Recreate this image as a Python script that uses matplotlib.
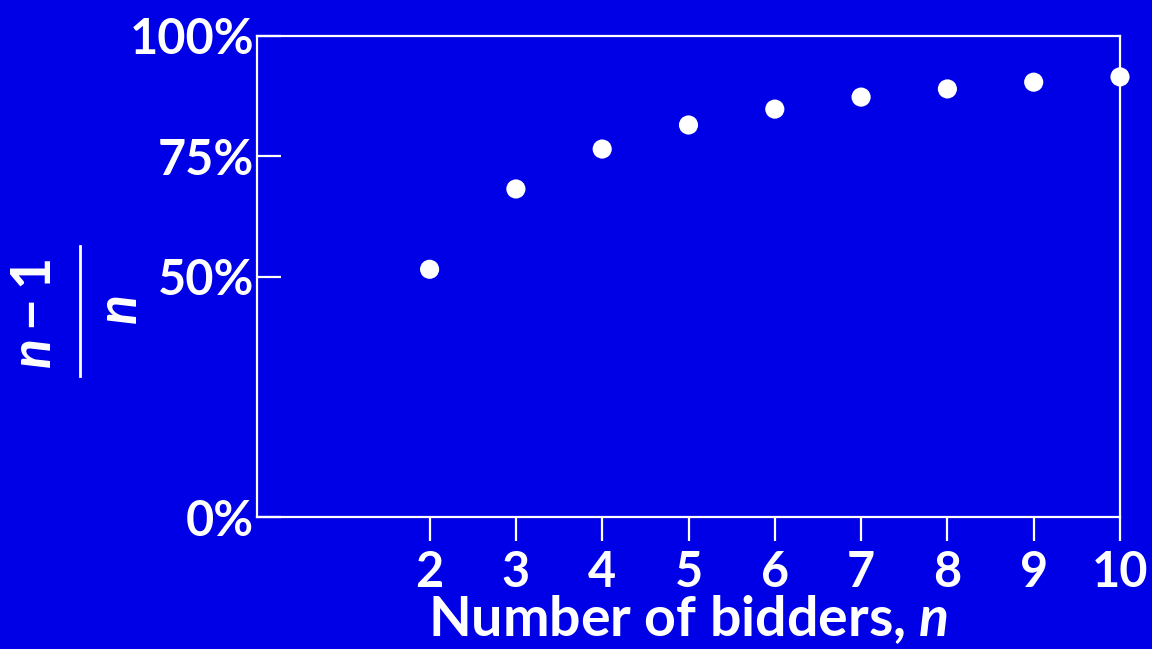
import numpy as np
import matplotlib.pyplot as plt
from matplotlib.lines import Line2D

# values: share (n-1)/n for n bidders
bidders = [2, 3, 4, 5, 6, 7, 8, 9, 10]
share = [0.515, 0.682, 0.765, 0.815, 0.848, 0.873, 0.890, 0.904, 0.915]
y_ticks = [0, 0.5, 0.75, 1.0]
y_labels = ['0%', '50%', '75%', '100%']

bg = '#0000e6'
fg = 'white'

plt.rcParams['font.family'] = 'Lato'
plt.rcParams['font.weight'] = 'bold'
plt.rcParams['axes.labelweight'] = 'bold'
plt.rcParams['mathtext.fontset'] = 'custom'
plt.rcParams['mathtext.it'] = 'Lato:italic:bold'
plt.rcParams['mathtext.rm'] = 'Lato:bold'
plt.rcParams['mathtext.bf'] = 'Lato:bold'

fig = plt.figure(figsize=(11.52, 6.49), dpi=100, facecolor=bg)
ax = fig.add_axes([257 / 1152, 1 - 517 / 649, (1120 - 257) / 1152, (517 - 36) / 649])
ax.set_facecolor(bg)

ax.scatter(bidders, share, s=190, color=fg, edgecolors='none', zorder=3, clip_on=False)

ax.set_xlim(0, 10)
ax.set_ylim(0, 1)
ax.set_xticks(bidders)
ax.set_xticklabels([str(b) for b in bidders])
ax.set_yticks(y_ticks)
ax.set_yticklabels(y_labels)

for s in ax.spines.values():
    s.set_color(fg)
    s.set_linewidth(1.6)

ax.tick_params(axis='x', direction='out', length=17, width=1.6, color=fg,
               labelcolor=fg, labelsize=35, pad=7)
ax.tick_params(axis='y', direction='in', length=17, width=1.6, color=fg,
               labelcolor=fg, labelsize=35, pad=2)

ax.set_xlabel(r'Number of bidders, $n$', color=fg, fontsize=40,
              fontweight='bold', labelpad=-2)

# y label drawn as a rotated fraction (n - 1) / n
fig.text(35 / 1152, 1 - 314 / 649, r'$n - 1$', rotation=90, color=fg,
         fontsize=40, ha='center', va='center')
fig.text(121 / 1152, 1 - 310 / 649, r'$n$', rotation=90, color=fg,
         fontsize=40, ha='center', va='center')
fig.add_artist(Line2D([80 / 1152, 80 / 1152], [1 - 246 / 649, 1 - 376 / 649],
                      transform=fig.transFigure, color=fg, lw=2))

fig.savefig('out.png', dpi=100, facecolor=bg)
